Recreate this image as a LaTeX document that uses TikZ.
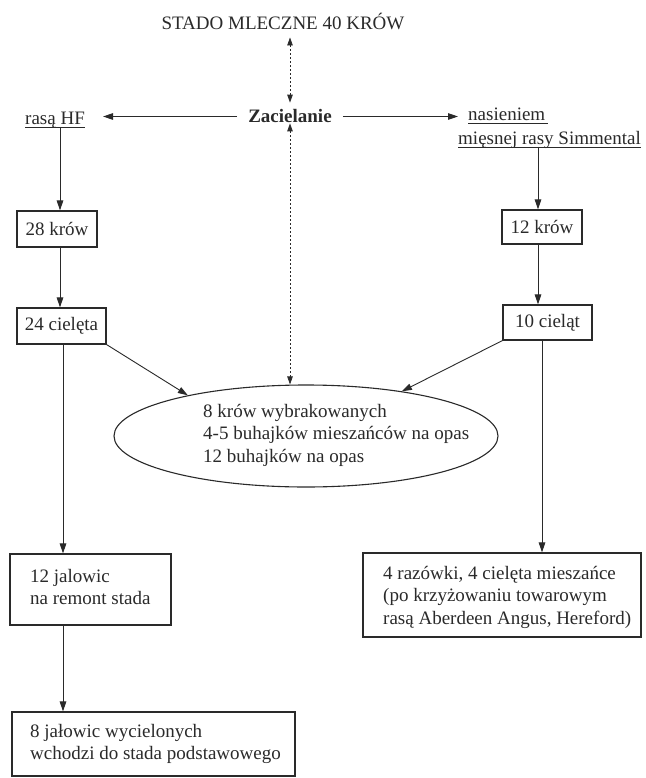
\documentclass[tikz,border=0pt]{standalone}
\usepackage{fontspec}
\setmainfont{Liberation Serif}
\usetikzlibrary{arrows.meta,shapes.geometric,calc}
\definecolor{ink}{HTML}{2A2A2A}
\newcommand\dfont{\fontsize{19}{22.5}\selectfont}
\begin{document}
\begin{tikzpicture}[x=1pt,y=-1pt,font=\dfont,
  line/.style={draw=ink,line width=0.9pt},
  arr/.style={line,-{Triangle[length=10pt,width=6.5pt]}},
  dotarr/.style={draw=ink,line width=0.8pt,dash pattern=on 2pt off 2pt,
    {Triangle[length=8pt,width=5.5pt]}-{Triangle[length=8pt,width=5.5pt]}},
  uline/.style={draw=ink,line width=0.7pt},
  box/.style={draw=ink,line width=1.1pt,rectangle,inner sep=0pt,text=ink},
  txt/.style={inner sep=0pt,text=ink}]
\useasboundingbox (0,0) rectangle (645,778);
\fill[white] (0,0) rectangle (645,778);
% column coordinates
\coordinate (cl) at (60,0);
\coordinate (cl2) at (63,0);
\coordinate (cr) at (538,0);
\coordinate (cr2) at (542,0);
\coordinate (cm) at (290,0);
% top texts
\node[txt,anchor=base] (stado) at (283,30) {STADO MLECZNE 40 KRÓW};
\node[txt,anchor=base,font=\dfont\bfseries] (zac) at (290,123) {Zacielanie};
\node[txt,anchor=base west] (hf) at (25,125) {rasą HF};
\node[txt,anchor=base west] (nas) at (468,121) {nasieniem};
\node[txt,anchor=base west] (sim) at (458,145) {mięsnej rasy Simmental};
\draw[uline] ([yshift=-2pt]hf.base west) -- ([yshift=-2pt]hf.base east);
\draw[uline] ([yshift=-2pt]nas.base west) -- ([xshift=3pt,yshift=-2pt]nas.base east);
\draw[uline] ([yshift=-2pt]sim.base west) -- ([yshift=-2pt]sim.base east);
% boxes
\node[box,minimum width=80pt,minimum height=36pt] (k28) at (57,229) {28 krów};
\node[box,minimum width=89pt,minimum height=36pt] (c24) at (61.5,326) {24 cielęta};
\node[box,minimum width=80pt,minimum height=34pt] (k12) at (542,227) {12 krów};
\node[box,minimum width=89pt,minimum height=35pt] (c10) at (547.5,322.5) {10 cieląt};
\node[box,minimum width=161pt,minimum height=71pt] (j12) at (90.5,589.5) {};
\node[txt,anchor=west,align=left] (j12t) at (30,587) {12 jalowic\\na remont stada};
\node[box,minimum width=283pt,minimum height=64pt] (j8) at (153.5,744) {};
\node[txt,anchor=west,align=left] (j8t) at (30,744) {8 jałowic wycielonych\\wchodzi do stada podstawowego};
\node[box,minimum width=278pt,minimum height=84pt] (rb) at (502,595) {};
\node[txt,anchor=west,align=left] (rbt) at (383,597) {4 razówki, 4 cielęta mieszańce\\(po krzyżowaniu towarowym\\rasą Aberdeen Angus, Hereford)};
\node[draw=ink,line width=1.1pt,ellipse,minimum width=384pt,minimum height=102pt,inner sep=0pt] (el) at (306,436) {};
\node[txt,anchor=west,align=left] (elt) at (203,435) {8 krów wybrakowanych\\4-5 buhajków mieszańców na opas\\12 buhajków na opas};
% connectors
\draw[dotarr,shorten <=7pt] (stado.south -| cm) -- ([yshift=7pt]zac.north -| cm);
\draw[dotarr] (zac.south -| cm) -- (cm |- el.north);
\draw[arr,shorten <=11pt,shorten >=18pt] (zac.west) -- (zac.west -| hf.east);
\draw[arr,shorten <=11pt,shorten >=10pt] (zac.east) -- (zac.east -| nas.west);
\draw[arr] ([yshift=-2pt]cl |- hf.base) -- (cl |- k28.north);
\draw[arr] (cl |- k28.south) -- (cl |- c24.north);
\draw[arr] (cl2 |- c24.south) -- (cl2 |- j12.north);
\draw[arr] (cl2 |- j12.south) -- (cl2 |- j8.north);
\draw[arr] ([yshift=-2pt]cr |- sim.base) -- (cr |- k12.north);
\draw[arr] (cr |- k12.south) -- (cr |- c10.north);
\draw[arr] (cr2 |- c10.south) -- (cr2 |- rb.north);
\draw[arr] (c24.south east) -- (el.161);
\draw[arr] (c10.south west) -- (el.25);
\end{tikzpicture}
\end{document}
